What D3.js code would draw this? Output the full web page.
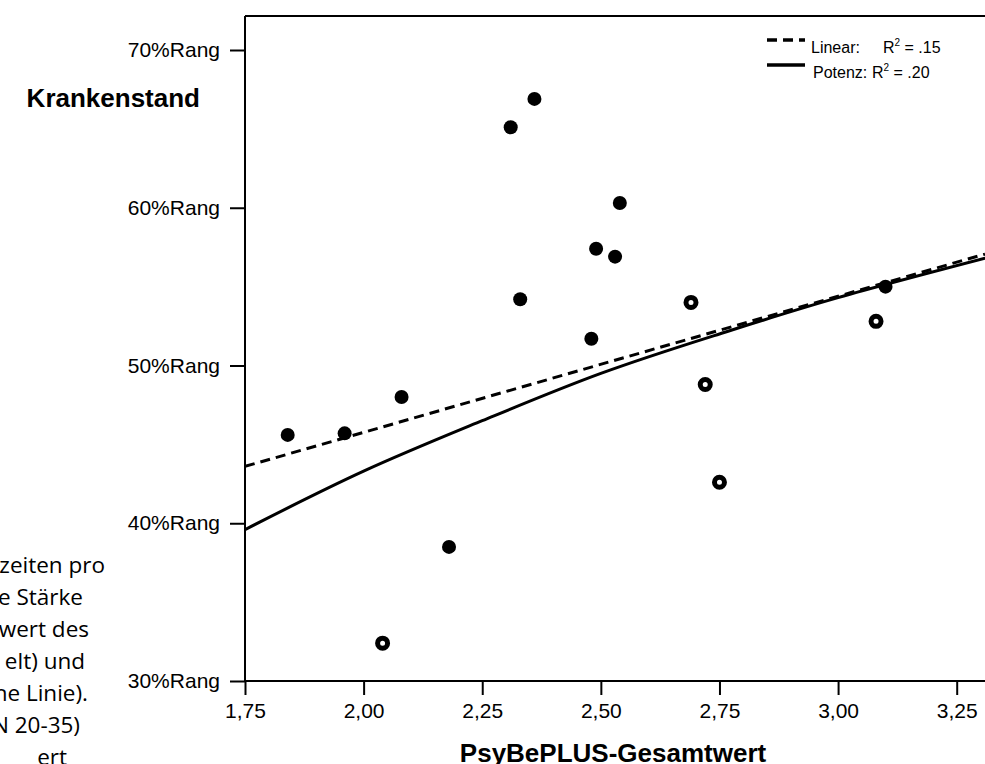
<!DOCTYPE html>
<html>
<head>
<meta charset="utf-8">
<script src="https://cdn.jsdelivr.net/npm/d3@7"></script>
<style>
  body { margin: 0; background: #fff; }
  svg { display: block; }
  .axis path, .axis line { stroke: #000; stroke-width: 2; }
  .axis text { font-family: "Liberation Sans", Arial, sans-serif; font-size: 21px; fill: #000; }
</style>
</head>
<body>
<div id="chart"></div>
<script>
// values
const xTicks = [1.75, 2.0, 2.25, 2.5, 2.75, 3.0, 3.25];
const yTicks = [30, 40, 50, 60, 70];

const pointX = [1.84, 1.96, 2.08, 2.18, 2.31, 2.33, 2.36, 2.48, 2.49, 2.53, 2.54, 3.10,
                2.04, 2.69, 2.72, 2.75, 3.08];
const pointY = [45.6, 45.7, 48.0, 38.5, 65.1, 54.2, 66.9, 51.7, 57.4, 56.9, 60.3, 55.0,
                32.4, 54.0, 48.8, 42.6, 52.8];
const pointOpen = [0, 0, 0, 0, 0, 0, 0, 0, 0, 0, 0, 0,
                   1, 1, 1, 1, 1];

// linear fit: intercept, slope
const linearFit = [28.5, 8.63];
// power fit curve
const powerX = [1.75, 2.0, 2.25, 2.5, 2.75, 3.0, 3.31];
const powerY = [39.6, 43.3, 46.5, 49.5, 52.0, 54.3, 56.8];

const legendLabels = ["Linear:", "Potenz:"];
const legendR2 = [".15", ".20"];

const sideLines = ["zeiten pro", "e Stärke", "wert des", "elt) und", "he Linie).", "N 20-35)", "ert"];
const sideEnds = [105, 83, 89, 85, 88, 80, 67];

const width = 985, height = 764;
const plotLeft = 245, plotRight = 985, plotTop = 16, plotBottom = 681;

const svg = d3.select("#chart").append("svg")
  .attr("width", width)
  .attr("height", height);

const x = d3.scaleLinear().domain([1.75, 3.25]).range([plotLeft, 956.7]);
const y = d3.scaleLinear().domain([30, 70]).range([plotBottom, 50]);

svg.append("defs").append("clipPath").attr("id", "plot-clip")
  .append("rect")
  .attr("x", plotLeft).attr("y", plotTop)
  .attr("width", plotRight - plotLeft).attr("height", plotBottom - plotTop);

// frame: top line
svg.append("line")
  .attr("x1", plotLeft).attr("x2", plotRight)
  .attr("y1", plotTop).attr("y2", plotTop)
  .attr("stroke", "#000").attr("stroke-width", 2);

const fmt = d3.format(".2f");

svg.append("g")
  .attr("class", "axis")
  .attr("transform", `translate(0,${plotBottom})`)
  .call(d3.axisBottom(x).tickValues(xTicks).tickSize(14).tickSizeOuter(0).tickPadding(8)
    .tickFormat((d) => fmt(d).replace(".", ",")))
  .call((g) => g.select(".domain").attr("d", `M${plotLeft},0H${plotRight}`));

svg.append("g")
  .attr("class", "axis")
  .attr("transform", `translate(${plotLeft},0)`)
  .call(d3.axisLeft(y).tickValues(yTicks).tickSize(15).tickSizeOuter(0).tickPadding(10)
    .tickFormat((d) => d + "%Rang"))
  .call((g) => g.select(".domain").attr("d", `M0,${plotTop}V${plotBottom}`));

const plot = svg.append("g").attr("clip-path", "url(#plot-clip)");

const linear = (v) => linearFit[0] + linearFit[1] * v;
const xDom = [x.invert(plotLeft), x.invert(plotRight)];

plot.append("path")
  .attr("d", d3.line()([[x(xDom[0]), y(linear(xDom[0]))], [x(xDom[1]), y(linear(xDom[1]))]]))
  .attr("fill", "none")
  .attr("stroke", "#000")
  .attr("stroke-width", 3)
  .attr("stroke-dasharray", "10,6");

plot.append("path")
  .datum(powerX.map((v, i) => [v, powerY[i]]))
  .attr("d", d3.line().x((d) => x(d[0])).y((d) => y(d[1])).curve(d3.curveNatural))
  .attr("fill", "none")
  .attr("stroke", "#000")
  .attr("stroke-width", 3);

const points = pointX.map((v, i) => ({ x: v, y: pointY[i], open: pointOpen[i] }));

svg.append("g")
  .selectAll("circle")
  .data(points)
  .join("circle")
  .attr("cx", (d) => x(d.x))
  .attr("cy", (d) => y(d.y))
  .attr("r", (d) => (d.open ? 5 : 7))
  .attr("fill", (d) => (d.open ? "#fff" : "#000"))
  .attr("stroke", "#000")
  .attr("stroke-width", (d) => (d.open ? 5 : 0));

// legend
const legend = svg.append("g")
  .style("font-family", "'Liberation Sans', Arial, sans-serif")
  .style("font-size", "16px");

const legendRows = [
  { label: legendLabels[0], r2: legendR2[0], y: 40, lx: 811, rx: 883, dash: "10,6" },
  { label: legendLabels[1], r2: legendR2[1], y: 65, lx: 813, rx: 872, dash: null },
];

legendRows.forEach((row) => {
  legend.append("line")
    .attr("x1", 767).attr("x2", 805)
    .attr("y1", row.y).attr("y2", row.y)
    .attr("stroke", "#000")
    .attr("stroke-width", 3.5)
    .attr("stroke-dasharray", row.dash);
  legend.append("text")
    .attr("x", row.lx).attr("y", row.y + 13)
    .text(row.label);
  const t = legend.append("text")
    .attr("x", row.rx).attr("y", row.y + 13);
  t.append("tspan").text("R");
  t.append("tspan").attr("dy", -7).style("font-size", "10px").text("2");
  t.append("tspan").attr("dy", 7).text(" = " + row.r2);
});

// axis titles
svg.append("text")
  .attr("x", 200).attr("y", 107)
  .attr("text-anchor", "end")
  .style("font-family", "'Liberation Sans', Arial, sans-serif")
  .style("font-size", "26px")
  .style("font-weight", "bold")
  .text("Krankenstand");

svg.append("text")
  .attr("x", 613).attr("y", 762)
  .attr("text-anchor", "middle")
  .style("font-family", "'Liberation Sans', Arial, sans-serif")
  .style("font-size", "26px")
  .style("font-weight", "bold")
  .text("PsyBePLUS-Gesamtwert");

// clipped caption text at the left edge
svg.append("g")
  .style("font-family", "'Open Sans', 'Noto Sans', sans-serif")
  .style("font-size", "22.5px")
  .selectAll("text")
  .data(sideLines)
  .join("text")
  .attr("x", (d, i) => sideEnds[i])
  .attr("y", (d, i) => 573 + i * 32)
  .attr("text-anchor", "end")
  .text((d) => d);
</script>
</body>
</html>
